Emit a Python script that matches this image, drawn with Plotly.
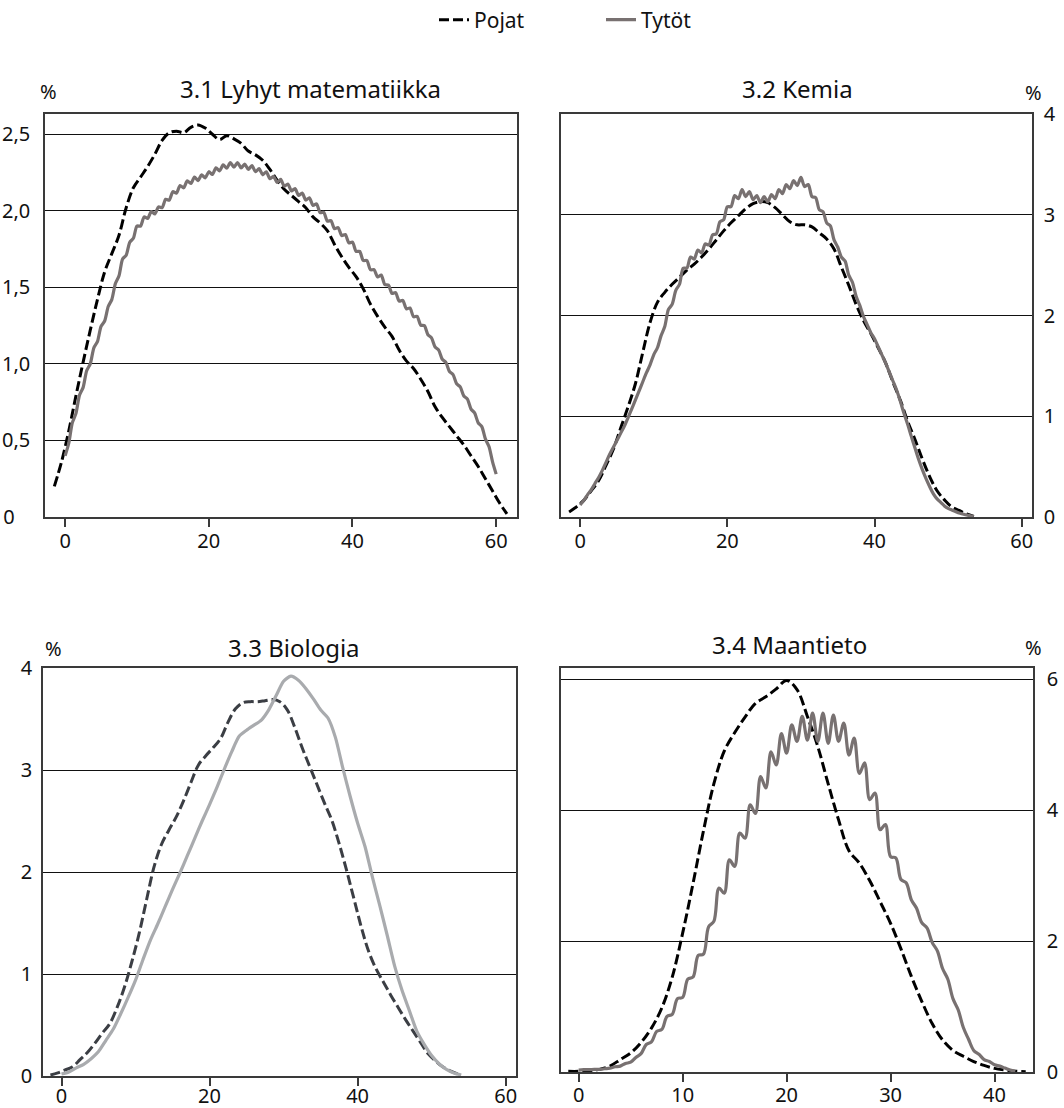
import plotly.graph_objects as go

W, H = 1064, 1108
FONT = "Noto Sans"

# ---------------- data ----------------
series_names = ["Pojat", "Tytöt"]
panel_titles = ["3.1 Lyhyt matematiikka", "3.2 Kemia", "3.3 Biologia", "3.4 Maantieto"]

# 3.1 Lyhyt matematiikka
math_boys_x = [i - 1.5 for i in range(64)]
math_boys_y = [0.20, 0.36, 0.56, 0.79, 1.01, 1.22, 1.42, 1.60, 1.72, 1.84,
               2.02, 2.15, 2.22, 2.29, 2.37, 2.46, 2.51, 2.52, 2.51, 2.545,
               2.56, 2.54, 2.50, 2.465, 2.49, 2.47, 2.44, 2.39, 2.365, 2.33,
               2.27, 2.20, 2.14, 2.10, 2.06, 2.02, 1.96, 1.92, 1.87, 1.78,
               1.70, 1.63, 1.57, 1.49, 1.39, 1.31, 1.24, 1.18, 1.09, 1.02,
               0.97, 0.90, 0.82, 0.72, 0.65, 0.59, 0.53, 0.47, 0.40, 0.33,
               0.25, 0.17, 0.09, 0.02]
math_girls_x = [i / 2 for i in range(121)]
math_girls_y = [0.40, 0.48, 0.615, 0.675, 0.795, 0.845, 0.955, 1.00, 1.105, 1.145,
                1.245, 1.28, 1.375, 1.42, 1.525, 1.575, 1.685, 1.71, 1.795, 1.82,
                1.90, 1.90, 1.96, 1.95, 1.995, 1.98, 2.025, 2.02, 2.075, 2.07,
                2.125, 2.115, 2.165, 2.15, 2.195, 2.178, 2.22, 2.197, 2.235, 2.215,
                2.255, 2.237, 2.28, 2.26, 2.30, 2.278, 2.315, 2.285, 2.315, 2.28,
                2.305, 2.27, 2.295, 2.255, 2.275, 2.235, 2.255, 2.21, 2.225, 2.185,
                2.205, 2.16, 2.175, 2.13, 2.145, 2.10, 2.115, 2.07, 2.085, 2.035,
                2.045, 1.988, 1.99, 1.933, 1.935, 1.883, 1.89, 1.838, 1.845, 1.79,
                1.795, 1.735, 1.735, 1.675, 1.675, 1.615, 1.615, 1.568, 1.58, 1.518,
                1.515, 1.46, 1.465, 1.41, 1.415, 1.36, 1.365, 1.308, 1.31, 1.253,
                1.25, 1.19, 1.17, 1.11, 1.09, 1.03, 1.01, 0.95, 0.93, 0.87,
                0.85, 0.79, 0.77, 0.705, 0.68, 0.615, 0.59, 0.51, 0.46, 0.36,
                0.28]

# 3.2 Kemia
chem_boys_x = [i - 1.5 for i in range(56)]
chem_boys_y = [0.05, 0.10, 0.165, 0.26, 0.36, 0.51, 0.67, 0.88, 1.09, 1.32,
               1.63, 1.93, 2.13, 2.23, 2.31, 2.38, 2.45, 2.51, 2.58, 2.66,
               2.75, 2.84, 2.92, 2.99, 3.06, 3.11, 3.13, 3.12, 3.07, 3.00,
               2.93, 2.90, 2.90, 2.88, 2.82, 2.76, 2.66, 2.48, 2.30, 2.11,
               1.95, 1.82, 1.68, 1.53, 1.34, 1.16, 0.95, 0.77, 0.575, 0.40,
               0.26, 0.17, 0.10, 0.065, 0.03, 0.005]
chem_girls_x = [i / 2 for i in range(108)]
chem_girls_y = [0.12, 0.165, 0.22, 0.27, 0.33, 0.39, 0.46, 0.54, 0.62, 0.69,
                0.76, 0.83, 0.90, 0.985, 1.07, 1.16, 1.25, 1.34, 1.43, 1.51,
                1.61, 1.68, 1.80, 1.89, 2.06, 2.11, 2.25, 2.31, 2.47, 2.47,
                2.58, 2.56, 2.65, 2.62, 2.71, 2.70, 2.80, 2.81, 2.93, 2.95,
                3.08, 3.08, 3.19, 3.16, 3.25, 3.18, 3.23, 3.15, 3.19, 3.12,
                3.18, 3.13, 3.20, 3.16, 3.25, 3.21, 3.30, 3.26, 3.34, 3.29,
                3.37, 3.28, 3.30, 3.18, 3.17, 3.05, 3.03, 2.92, 2.89, 2.75,
                2.68, 2.58, 2.54, 2.40, 2.33, 2.19, 2.10, 1.99, 1.91, 1.83,
                1.77, 1.69, 1.61, 1.53, 1.44, 1.35, 1.26, 1.15, 1.03, 0.92,
                0.80, 0.685, 0.57, 0.47, 0.38, 0.30, 0.23, 0.18, 0.145, 0.11,
                0.085, 0.07, 0.055, 0.04, 0.03, 0.02, 0.012, 0.005]

# 3.3 Biologia
bio_boys_x = [i - 1.5 for i in range(56)]
bio_boys_y = [0.01, 0.03, 0.06, 0.09, 0.16, 0.23, 0.32, 0.42, 0.51, 0.67,
              0.87, 1.12, 1.40, 1.73, 2.05, 2.27, 2.41, 2.54, 2.70, 2.88,
              3.05, 3.14, 3.22, 3.31, 3.47, 3.60, 3.66, 3.67, 3.67, 3.68,
              3.69, 3.67, 3.59, 3.42, 3.22, 3.04, 2.86, 2.68, 2.51, 2.28,
              2.02, 1.74, 1.46, 1.22, 1.05, 0.92, 0.79, 0.67, 0.55, 0.44,
              0.33, 0.22, 0.15, 0.09, 0.05, 0.02]
bio_girls_x = list(range(55))
bio_girls_y = [0.02, 0.04, 0.08, 0.115, 0.17, 0.24, 0.35, 0.46, 0.61, 0.77,
               0.94, 1.14, 1.33, 1.49, 1.66, 1.83, 1.99, 2.16, 2.33, 2.50,
               2.66, 2.83, 3.01, 3.18, 3.33, 3.39, 3.44, 3.49, 3.59, 3.73,
               3.87, 3.92, 3.88, 3.80, 3.70, 3.59, 3.51, 3.32, 3.02, 2.74,
               2.48, 2.25, 1.95, 1.67, 1.38, 1.08, 0.84, 0.64, 0.44, 0.31,
               0.20, 0.12, 0.065, 0.03, 0.01]

# 3.4 Maantieto
geo_boys_x = [i - 1 for i in range(45)]
geo_boys_y = [0.01, 0.01, 0.02, 0.04, 0.09, 0.19, 0.29, 0.45, 0.67, 0.98,
              1.45, 2.12, 2.88, 3.68, 4.40, 4.90, 5.18, 5.42, 5.63, 5.73,
              5.85, 5.98, 5.84, 5.43, 4.97, 4.40, 3.85, 3.38, 3.19, 2.92,
              2.60, 2.27, 1.88, 1.46, 1.08, 0.74, 0.49, 0.33, 0.24, 0.16,
              0.10, 0.055, 0.03, 0.012, 0.005]
geo_girls_x = [i / 2 for i in range(85)]
geo_girls_y = [0.03, 0.035, 0.035, 0.04, 0.04, 0.05, 0.06, 0.08, 0.09, 0.13,
               0.15, 0.22, 0.28, 0.42, 0.46, 0.62, 0.65, 0.85, 0.88, 1.12,
               1.14, 1.42, 1.45, 1.78, 1.80, 2.22, 2.30, 2.81, 2.73, 3.24,
               3.14, 3.65, 3.57, 4.08, 3.95, 4.51, 4.34, 4.89, 4.69, 5.17,
               4.87, 5.30, 5.05, 5.43, 5.07, 5.48, 5.05, 5.48, 5.02, 5.45,
               5.05, 5.33, 4.84, 5.10, 4.56, 4.72, 4.16, 4.26, 3.70, 3.78,
               3.29, 3.27, 2.94, 2.89, 2.63, 2.50, 2.28, 2.20, 1.98, 1.85,
               1.58, 1.42, 1.12, 0.95, 0.68, 0.50, 0.33, 0.27, 0.19, 0.16,
               0.11, 0.09, 0.06, 0.03, 0.01]

# axis ticks
math_yticks = [0, 0.5, 1.0, 1.5, 2.0, 2.5]
math_yticktext = ["0\u00a0\u00a0\u00a0", "0,5", "1,0", "1,5", "2,0", "2,5"]
chem_yticks = [0, 1, 2, 3, 4]
bio_yticks = [0, 1, 2, 3, 4]
geo_yticks = [0, 2, 4, 6]
x_ticks_60 = [0, 20, 40, 60]
x_ticks_40 = [0, 10, 20, 30, 40]

# ---------------- figure ----------------
def px_dom_x(a, b):
    return [a / W, b / W]

def px_dom_y(top, bottom):
    return [1 - bottom / H, 1 - top / H]

BOY_BLACK = "#000000"
GIRL_GREY = "#787171"
BIO_BOY = "#3b3e44"
BIO_GIRL = "#a9abae"
DASH = "10px,4px"

fig = go.Figure()

panels = [
    dict(xa="x", ya="y", bx=math_boys_x, by=math_boys_y, gx=math_girls_x, gy=math_girls_y,
         bc=BOY_BLACK, gc=GIRL_GREY, legend=True, gs=0.7),
    dict(xa="x2", ya="y2", bx=chem_boys_x, by=chem_boys_y, gx=chem_girls_x, gy=chem_girls_y,
         bc=BOY_BLACK, gc=GIRL_GREY, legend=False, gs=0.8),
    dict(xa="x3", ya="y3", bx=bio_boys_x, by=bio_boys_y, gx=bio_girls_x, gy=bio_girls_y,
         bc=BIO_BOY, gc=BIO_GIRL, legend=False, gs=0.7),
    dict(xa="x4", ya="y4", bx=geo_boys_x, by=geo_boys_y, gx=geo_girls_x, gy=geo_girls_y,
         bc=BOY_BLACK, gc=GIRL_GREY, legend=False, gs=1.0),
]

for p in panels:
    fig.add_trace(go.Scatter(
        x=p["bx"], y=p["by"], xaxis=p["xa"], yaxis=p["ya"], mode="lines",
        name=series_names[0], showlegend=p["legend"], legendgroup="b",
        line=dict(color=p["bc"], width=3, dash=DASH, shape="spline", smoothing=1.0),
        hoverinfo="skip"))
    fig.add_trace(go.Scatter(
        x=p["gx"], y=p["gy"], xaxis=p["xa"], yaxis=p["ya"], mode="lines",
        name=series_names[1], showlegend=p["legend"], legendgroup="g",
        line=dict(color=p["gc"], width=3.2, shape="spline", smoothing=p["gs"]),
        hoverinfo="skip"))

FRAME = "#3a3a3a"
TICKFONT = dict(family=FONT, size=20, color="#111111")


def xaxis(domain, rng, ticks, anchor, standoff):
    return dict(domain=domain, range=rng, tickvals=ticks, ticks="outside", ticklen=8,
                tickwidth=1.5, tickcolor=FRAME, showline=True, linecolor=FRAME,
                linewidth=1.5, mirror=True, showgrid=False, zeroline=False,
                tickfont=TICKFONT, anchor=anchor, ticklabelstandoff=standoff,
                fixedrange=True)


def yaxis(domain, rng, ticks, anchor, side, standoff, ticktext=None):
    d = dict(domain=domain, range=rng, tickvals=ticks, ticks="", showline=True,
             linecolor=FRAME, linewidth=1.5, mirror=True, showgrid=True,
             gridcolor="#111111", gridwidth=1, zeroline=False, tickfont=TICKFONT,
             anchor=anchor, side=side, ticklabelstandoff=standoff, fixedrange=True)
    if ticktext is not None:
        d["ticktext"] = ticktext
    return d


fig.update_layout(
    width=W, height=H,
    margin=dict(l=0, r=0, t=0, b=0, autoexpand=False),
    paper_bgcolor="white", plot_bgcolor="white",
    font=dict(family=FONT, size=20, color="#111111"),
    xaxis=xaxis(px_dom_x(45, 517), [-2.8, 62.9], x_ticks_60, "y", -3),
    yaxis=yaxis(px_dom_y(114, 517), [0, 2.632], math_yticks, "x", "left", 9, math_yticktext),
    xaxis2=xaxis(px_dom_x(561, 1032), [-2.6, 61.4], x_ticks_60, "y2", -3),
    yaxis2=yaxis(px_dom_y(114, 517), [0, 4], chem_yticks, "x2", "right", 6),
    xaxis3=xaxis(px_dom_x(43, 516), [-2.5, 61.4], x_ticks_60, "y3", -7),
    yaxis3=yaxis(px_dom_y(668, 1076), [0, 4], bio_yticks, "x3", "left", 5),
    xaxis4=xaxis(px_dom_x(561, 1033), [-1.7, 43.7], x_ticks_40, "y4", -4),
    yaxis4=yaxis(px_dom_y(668, 1072), [0, 6.17], geo_yticks, "x4", "right", 8),
    legend=dict(orientation="h", x=434 / W, xanchor="left", y=1 - 20 / H,
                yanchor="middle", font=dict(family=FONT, size=21, color="#111111"),
                bgcolor="rgba(0,0,0,0)", entrywidth=122, entrywidthmode="pixels",
                tracegroupgap=0),
    showlegend=True,
)

title_pos = [(310, 88), (797, 88), (294, 647), (789, 645)]
pct_pos = [(48, 92), (1033, 93), (53, 648), (1033, 647)]
for t, (tx, ty) in zip(panel_titles, title_pos):
    fig.add_annotation(x=tx / W, y=1 - ty / H, xref="paper", yref="paper", text=t,
                       showarrow=False, xanchor="center", yanchor="middle",
                       font=dict(family=FONT, size=24, color="#111111"))
for (tx, ty) in pct_pos:
    fig.add_annotation(x=tx / W, y=1 - ty / H, xref="paper", yref="paper", text="%",
                       showarrow=False, xanchor="center", yanchor="middle",
                       font=dict(family=FONT, size=20, color="#111111"))

fig.write_html("out.html", config={"displayModeBar": False},
               post_script="document.body.style.margin='0';")
